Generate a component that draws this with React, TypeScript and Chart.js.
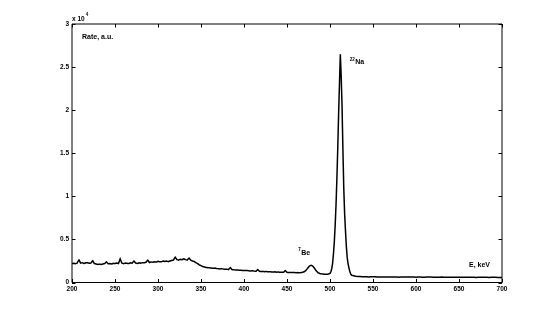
import React, { useEffect, useRef } from "react";
import { Chart, registerables } from "chart.js";

Chart.register(...registerables);

// Energy (keV) and count rate (a.u.)
const lowEnergyKeV = [
  200, 202, 204, 206, 208, 210, 212, 214, 216, 218,
  220, 222, 224, 226, 228, 230, 232, 234, 236, 238,
  240, 242, 244, 246, 248, 250, 252, 254, 256, 258,
  260, 262, 264, 266, 268, 270, 272, 274, 276, 278,
  280, 282, 284, 286, 288, 290, 292, 294, 296, 298,
  300, 302, 304, 306, 308, 310, 312, 314, 316, 318,
  320, 322, 324, 326, 328, 330, 332, 334, 336, 338,
  340, 342, 344, 346, 348, 350, 352, 354, 356, 358,
  360, 362, 364, 366, 368, 370, 372, 374, 376, 378,
  380, 382, 384, 386, 388, 390, 392, 394, 396, 398,
  400, 402, 404, 406, 408, 410, 412, 414, 416, 418,
  420, 422, 424, 426, 428, 430, 432, 434, 436, 438,
  440, 442, 444, 446, 448, 450, 452, 454, 456, 458,
  460, 462, 464, 466, 468, 470, 472, 474, 476, 478,
  480, 482, 484, 486, 488, 490, 492, 494, 496, 498,
];
const lowRate = [
  2200, 2230, 2180, 2250, 2650, 2250, 2300, 2200, 2280, 2300,
  2230, 2260, 2550, 2200, 2150, 2100, 2130, 2100, 2150, 2200,
  2400, 2180, 2200, 2150, 2220, 2200, 2250, 2200, 2750, 2250,
  2180, 2250, 2230, 2200, 2280, 2250, 2500, 2250, 2200, 2280,
  2250, 2300, 2280, 2350, 2600, 2320, 2380, 2350, 2400, 2380,
  2450, 2420, 2400, 2500, 2450, 2480, 2420, 2500, 2550, 2600,
  2950, 2650, 2600, 2700, 2650, 2750, 2650, 2600, 2850, 2600,
  2500, 2450, 2300, 2200, 2050, 1950, 1850, 1800, 1750, 1720,
  1700, 1680, 1650, 1680, 1620, 1600, 1580, 1600, 1560, 1540,
  1550, 1500, 1750, 1500, 1480, 1450, 1460, 1420, 1430, 1400,
  1390, 1380, 1400, 1350, 1340, 1360, 1320, 1310, 1500, 1300,
  1280, 1290, 1260, 1270, 1240, 1250, 1230, 1220, 1240, 1200,
  1210, 1190, 1200, 1180, 1400, 1180, 1160, 1170, 1150, 1160,
  1140, 1150, 1130, 1150, 1180, 1250, 1400, 1650, 1900, 2000,
  1900, 1650, 1350, 1150, 1050, 1000, 980, 960, 950, 980,
];
const peakEnergyKeV = [
  500, 501, 502, 503, 504, 505, 506, 507, 508, 509,
  510, 511, 512, 513, 514, 515, 516, 517, 518, 519,
  520, 521, 522, 523, 524, 525,
];
const peakRate = [
  1050, 1250, 1600, 2200, 3300, 4700, 6600, 9000, 12000, 15500,
  19500, 23000, 26500, 24000, 20500, 15500, 11000, 8000, 6000, 4200,
  2900, 2200, 1700, 1300, 1000, 850,
];
const highEnergyKeV = [
  530, 535, 540, 545, 550, 555, 560, 565, 570, 575,
  580, 585, 590, 595, 600, 605, 610, 615, 620, 625,
  630, 635, 640, 645, 650, 655, 660, 665, 670, 675,
  680, 685, 690, 695, 700,
];
const highRate = [
  720, 690, 660, 650, 670, 640, 650, 630, 650, 640,
  620, 650, 630, 640, 620, 630, 610, 640, 620, 610,
  630, 600, 620, 610, 600, 620, 600, 610, 590, 600,
  610, 590, 600, 590, 580,
];

const xMin = 200;
const xMax = 700;
const xStep = 50;
const yMin = 0;
const yMax = 30000;
const yStep = 5000;
const yExponent = 4;

const FONT = "'Liberation Sans', Arial, Helvetica, sans-serif";

const boxPlugin = {
  id: "matlabBox",
  afterDraw(chart: any) {
    const { ctx, chartArea } = chart;
    const xs = chart.scales.x;
    const ys = chart.scales.y;
    const { left, right, top, bottom } = chartArea;
    const tl = 3.5;
    ctx.save();
    ctx.strokeStyle = "#000";
    ctx.lineWidth = 1;
    ctx.beginPath();
    ctx.rect(left, top, right - left, bottom - top);
    ctx.stroke();
    ctx.beginPath();
    xs.ticks.forEach((t: any) => {
      const px = Math.round(xs.getPixelForValue(t.value)) + 0.5;
      ctx.moveTo(px, bottom);
      ctx.lineTo(px, bottom - tl);
      ctx.moveTo(px, top);
      ctx.lineTo(px, top + tl);
    });
    ys.ticks.forEach((t: any) => {
      const py = Math.round(ys.getPixelForValue(t.value)) + 0.5;
      ctx.moveTo(left, py);
      ctx.lineTo(left + tl, py);
      ctx.moveTo(right, py);
      ctx.lineTo(right - tl, py);
    });
    ctx.stroke();

    ctx.fillStyle = "#000";
    ctx.textBaseline = "alphabetic";
    ctx.textAlign = "left";
    // exponent label
    ctx.font = `bold 6.5px ${FONT}`;
    ctx.fillText("x 10", left, top - 3.5);
    const w10 = ctx.measureText("x 10").width;
    ctx.font = `bold 4.5px ${FONT}`;
    ctx.fillText(String(yExponent), left + w10 + 1, top - 8);

    // axis labels
    ctx.font = `bold 7px ${FONT}`;
    ctx.fillText("Rate, a.u.", left + 10, top + 15);
    ctx.textAlign = "right";
    ctx.fillText("E, keV", right - 12, bottom - 16);

    // peak labels
    ctx.textAlign = "left";
    const naX = xs.getPixelForValue(523);
    const naY = ys.getPixelForValue(25300);
    ctx.font = `bold 4.5px ${FONT}`;
    ctx.fillText("22", naX, naY - 3.5);
    const w22 = ctx.measureText("22").width;
    ctx.font = `bold 7px ${FONT}`;
    ctx.fillText("Na", naX + w22 + 0.5, naY);

    const beX = xs.getPixelForValue(463);
    const beY = ys.getPixelForValue(3200);
    ctx.font = `bold 4.5px ${FONT}`;
    ctx.fillText("7", beX, beY - 3.5);
    const w7 = ctx.measureText("7").width;
    ctx.font = `bold 7px ${FONT}`;
    ctx.fillText("Be", beX + w7 + 0.5, beY);
    ctx.restore();
  },
};

export default function App() {
  const ref = useRef<HTMLCanvasElement | null>(null);

  useEffect(() => {
    if (!ref.current) return;
    const energies = [...lowEnergyKeV, ...peakEnergyKeV, ...highEnergyKeV];
    const rates = [...lowRate, ...peakRate, ...highRate];
    const points = energies.map((e, i) => ({ x: e, y: rates[i] }));

    const chart = new Chart(ref.current, {
      type: "line",
      data: {
        datasets: [
          {
            data: points,
            borderColor: "#000",
            borderWidth: 1.5,
            pointRadius: 0,
            tension: 0.0001,
            fill: false,
          },
        ],
      },
      options: {
        responsive: false,
        animation: false,
        events: [],
        layout: { padding: { top: 24, right: 52, left: 0, bottom: 0 } },
        plugins: {
          legend: { display: false },
          tooltip: { enabled: false },
          title: { display: false },
        },
        scales: {
          x: {
            type: "linear",
            min: xMin,
            max: xMax,
            grid: { display: false, drawTicks: false },
            border: { display: false },
            ticks: {
              stepSize: xStep,
              padding: 3,
              color: "#000",
              maxRotation: 0,
              autoSkip: false,
              font: { family: FONT, size: 6.5, weight: "bold" },
            },
            afterFit: (s: any) => {
              s.height = 35.5;
            },
          },
          y: {
            type: "linear",
            min: yMin,
            max: yMax,
            grid: { display: false, drawTicks: false },
            border: { display: false },
            ticks: {
              stepSize: yStep,
              padding: 3,
              color: "#000",
              autoSkip: false,
              font: { family: FONT, size: 6.5, weight: "bold" },
              callback: (v: any) => String(Number(v) / Math.pow(10, yExponent)),
            },
            afterFit: (s: any) => {
              s.width = 72;
            },
          },
        },
      },
      plugins: [boxPlugin],
    });
    return () => chart.destroy();
  }, []);

  return (
    <div style={{ position: "absolute", left: 0, top: 0, width: 554, height: 318, background: "#fff" }}>
      <canvas ref={ref} width={554} height={318} style={{ display: "block" }} />
    </div>
  );
}
